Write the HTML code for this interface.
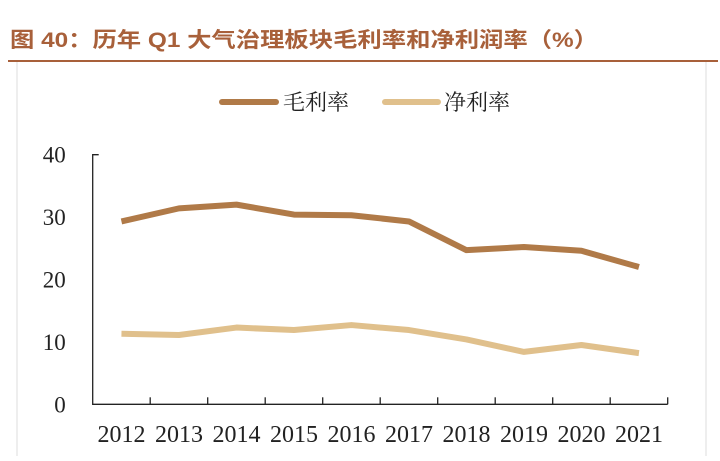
<!DOCTYPE html>
<html><head><meta charset="utf-8"><style>
body{margin:0;background:#fff;}
svg text{font-family:"Liberation Serif","Noto Serif CJK SC",serif;}
</style></head><body>
<svg width="720" height="456" viewBox="0 0 720 456" xmlns="http://www.w3.org/2000/svg">
<text x="10" y="47" font-size="21" font-weight="bold" fill="#a8603a" textLength="588" lengthAdjust="spacingAndGlyphs" style="font-family:'Liberation Sans','Noto Sans CJK SC',sans-serif">图 40：历年 Q1 大气治理板块毛利率和净利润率（%）</text>
<line x1="8" y1="61" x2="718" y2="61" stroke="#a8603a" stroke-width="2"/>
<line x1="17" y1="62" x2="17" y2="456" stroke="#ddd" stroke-width="1"/>
<line x1="706" y1="62" x2="706" y2="456" stroke="#ddd" stroke-width="1"/>
<g>
<line x1="222" y1="102" x2="276" y2="102" stroke="#b07a48" stroke-width="6" stroke-linecap="round"/>
<text x="283" y="110" font-size="22" fill="#222" style="font-family:'Noto Serif CJK SC',serif">毛利率</text>
<line x1="385" y1="102" x2="438" y2="102" stroke="#e0c08c" stroke-width="6" stroke-linecap="round"/>
<text x="444" y="110" font-size="22" fill="#222" style="font-family:'Noto Serif CJK SC',serif">净利率</text>
</g>
<g id="plot"></g>
</svg>
<script>
const categories=["2012","2013","2014","2015","2016","2017","2018","2019","2020","2021"];
const grossMargin=[29.3,31.4,32.0,30.4,30.3,29.3,24.7,25.2,24.6,22.0];
const netMargin=[11.3,11.1,12.3,11.9,12.7,11.9,10.4,8.4,9.5,8.2];
const yTicks=[0,10,20,30,40];
const ns="http://www.w3.org/2000/svg";
const X0=92.7,X1=667.7,Y0=404.3,Y1=154.7,YMAX=40;
const bw=(X1-X0)/categories.length;
const xs=i=>X0+bw*(i+0.5);
const ys=v=>Y0-(v/YMAX)*(Y0-Y1);
const g=document.getElementById('plot');
function mk(t,a){const e=document.createElementNS(ns,t);for(const k in a)e.setAttribute(k,a[k]);g.appendChild(e);return e;}
let ax=mk('path',{d:`M${X0+6},${Y1} H${X0} V${Y0} H${X1}`,fill:'none',stroke:'#222','stroke-width':1.3});


yTicks.forEach(v=>{
 const t=mk('text',{x:X0-27,y:ys(v)+8,'font-size':23,'text-anchor':'end',fill:'#222'});
 t.textContent=v;
 
 
});
categories.forEach((c,i)=>{
 const tk=mk('line',{x1:X0+bw*(i+1),x2:X0+bw*(i+1),y1:Y0,y2:Y0-7,stroke:'#222','stroke-width':1.3});
 
 
 const t=mk('text',{x:xs(i),y:442,'font-size':24,'text-anchor':'middle',fill:'#222'});
 t.textContent=c;
 
 
});
function series(arr,color,name){
 const p=mk('polyline',{points:arr.map((v,i)=>xs(i)+','+ys(v)).join(' '),fill:'none',stroke:color,'stroke-width':6,'stroke-linejoin':'round'});
 
 
}
series(netMargin,'#e0c08c','net-margin-line');
series(grossMargin,'#b07a48','gross-margin-line');
</script>
</body></html>
